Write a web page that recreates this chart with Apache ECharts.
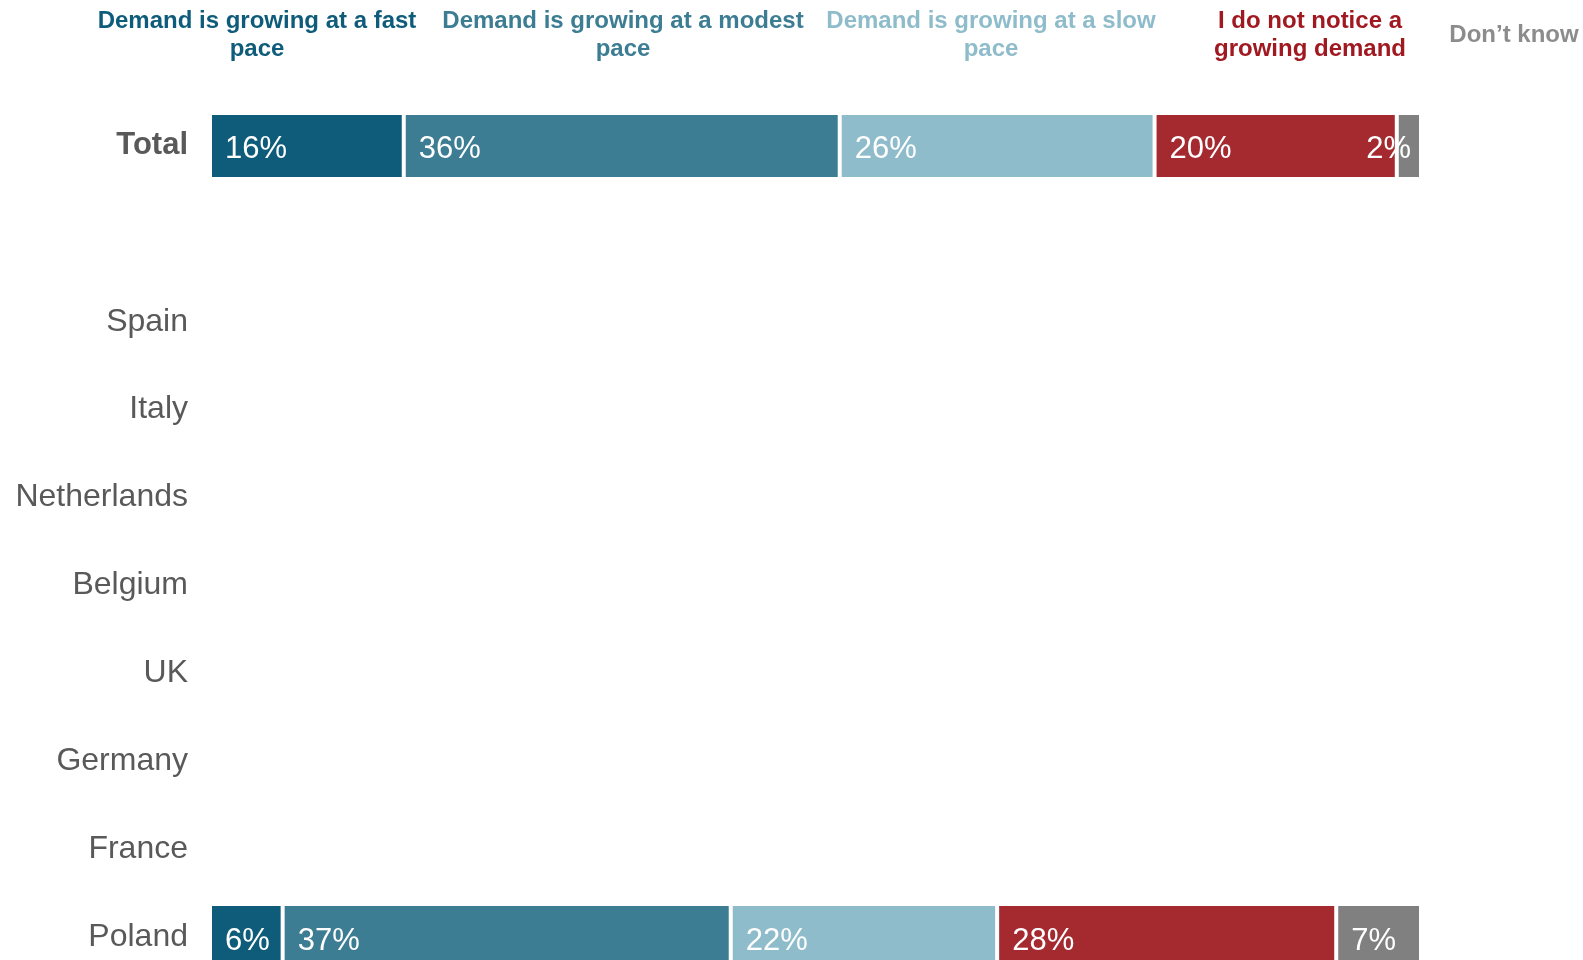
<!DOCTYPE html>
<html>
<head>
    <meta charset="utf-8">
    <title>Demand</title>
    <script src="https://cdn.jsdelivr.net/npm/echarts@6/dist/echarts.min.js"></script>
    <style>
        html, body { margin: 0; padding: 0; background: #fff; overflow: hidden; }
    </style>
</head>
<body>
<!-- taller than the window: the Poland row runs past the bottom edge, like the picture -->
<div id="main" style="width: 1583px;height:1010px;"></div>
<script type="text/javascript">
    // rows, top to bottom ('' is the empty spacer row under Total)
    var categories = ['Total', '', 'Spain', 'Italy', 'Netherlands', 'Belgium', 'UK', 'Germany', 'France', 'Poland'];

    var seriesNames = ['Demand is growing at a fast pace', 'Demand is growing at a modest pace',
        'Demand is growing at a slow pace', 'I do not notice a growing demand', 'Don\u2019t know'];
    var headerLines = ['Demand is growing at a fast\npace', 'Demand is growing at a modest\npace',
        'Demand is growing at a slow\npace', 'I do not notice a\ngrowing demand', 'Don\u2019t know'];

    // only Total and Poland have bars in the picture
    var fastPace   = [16, null, null, null, null, null, null, null, null, 6];
    var modestPace = [36, null, null, null, null, null, null, null, null, 37];
    var slowPace   = [26, null, null, null, null, null, null, null, null, 22];
    var noDemand   = [20, null, null, null, null, null, null, null, null, 28];
    var dontKnow   = [2,  null, null, null, null, null, null, null, null, 7];

    var barColors  = ['#0e5c7a', '#3c7d93', '#8fbccb', '#a52a30', '#808080'];
    var headColors = ['#0e5c7a', '#3c7d93', '#8fbccb', '#a01820', '#8c8c8c'];
    var headX = [257, 623, 991, 1310, 1514];

    var myChart = echarts.init(document.getElementById('main'));

    function makeSeries(name, values, idx) {
        return {
            name: name,
            type: 'bar',
            stack: 'all',
            barWidth: 66,
            itemStyle: { color: barColors[idx], borderColor: '#fff', borderWidth: 2 },
            label: {
                show: true,
                position: 'insideLeft',
                distance: 15,
                offset: [0, 4],
                color: '#fff',
                fontFamily: 'Liberation Sans',
                fontSize: 31,
                formatter: '{c}%'
            },
            // tiny segments: label hangs to the left, as in the picture
            data: values.map(function (v) {
                if (v !== null && v < 5) {
                    return { value: v, label: { position: 'insideRight', distance: 10 } };
                }
                return v;
            })
        };
    }

    var graphics = headerLines.map(function (t, i) {
        return {
            type: 'text',
            x: headX[i],
            y: 35,
            style: {
                text: t,
                fill: headColors[i],
                font: 'bold 24px "Liberation Sans"',
                align: 'center',
                verticalAlign: 'middle',
                lineHeight: 28
            }
        };
    });

    var option = {
        animation: false,
        grid: { left: 210, top: 102, width: 1211, height: 879, containLabel: false },
        xAxis: { type: 'value', min: 0, max: 100, show: false },
        yAxis: {
            type: 'category',
            inverse: true,
            data: categories,
            axisLine: { show: false },
            axisTick: { show: false },
            axisLabel: {
                margin: 22,
                color: '#595959',
                fontFamily: 'Liberation Sans',
                fontSize: 32,
                formatter: function (v) {
                    return v === 'Total' ? '{b|' + v + '}' : v;
                },
                rich: {
                    b: { fontWeight: 'bold', fontSize: 31, color: '#595959', fontFamily: 'Liberation Sans' }
                }
            }
        },
        graphic: graphics,
        series: [
            makeSeries(seriesNames[0], fastPace, 0),
            makeSeries(seriesNames[1], modestPace, 1),
            makeSeries(seriesNames[2], slowPace, 2),
            makeSeries(seriesNames[3], noDemand, 3),
            makeSeries(seriesNames[4], dontKnow, 4)
        ]
    };

    myChart.setOption(option);
</script>
</body>
</html>
